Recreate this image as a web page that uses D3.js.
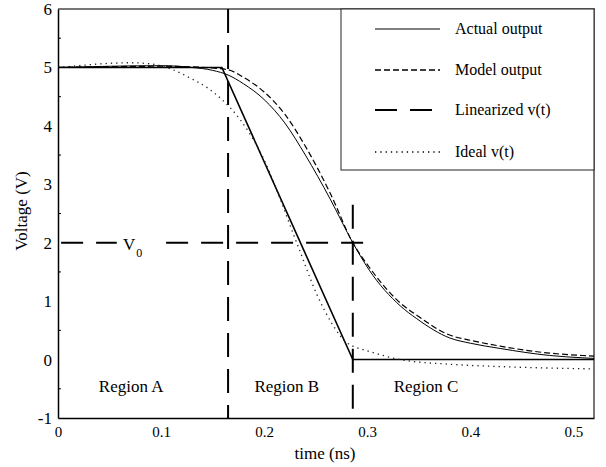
<!DOCTYPE html>
<html>
<head>
<meta charset="utf-8">
<script src="https://cdn.jsdelivr.net/npm/d3@7"></script>
<style>
  body { margin: 0; background: #fff; }
  svg, svg text { font-family: "Liberation Serif", "DejaVu Serif", serif; }
  .tick text { fill: #000; }
</style>
</head>
<body>
<svg id="chart" width="606" height="467"></svg>
<script>
// time points (ns) and voltages (V)
const tActual = [0, 0.05, 0.1, 0.13, 0.15, 0.165, 0.18, 0.2, 0.22, 0.24, 0.264, 0.286, 0.302, 0.332, 0.348, 0.38, 0.4, 0.429, 0.477, 0.509, 0.52];
const vActual = [5, 5.02, 5.03, 5.0, 4.95, 4.87, 4.72, 4.45, 4.05, 3.5, 2.75, 2.0, 1.53, 0.92, 0.7, 0.37, 0.28, 0.19, 0.07, 0.03, 0.02];

const tModel = [0, 0.1, 0.13, 0.15, 0.165, 0.18, 0.2, 0.22, 0.24, 0.264, 0.286, 0.302, 0.332, 0.348, 0.38, 0.4, 0.429, 0.477, 0.509, 0.52];
const vModel = [5, 5.02, 5.01, 4.99, 4.96, 4.83, 4.58, 4.2, 3.65, 2.85, 2.0, 1.58, 0.97, 0.76, 0.42, 0.33, 0.23, 0.11, 0.07, 0.06];

const tLinear = [0, 0.159, 0.286, 0.52];
const vLinear = [5, 5, 0, 0];

const tIdeal = [0, 0.02, 0.04, 0.07, 0.09, 0.11, 0.128, 0.145, 0.159, 0.177, 0.196, 0.232, 0.251, 0.266, 0.28, 0.286, 0.3, 0.332, 0.38, 0.429, 0.52];
const vIdeal = [5, 5.03, 5.06, 5.08, 5.06, 4.97, 4.82, 4.65, 4.45, 4.1, 3.56, 1.98, 1.12, 0.61, 0.29, 0.23, 0.15, 0.0, -0.08, -0.12, -0.16];

const xTicks = [0, 0.1, 0.2, 0.3, 0.4, 0.5];
const yTicks = [-1, 0, 1, 2, 3, 4, 5, 6];

const t1 = 0.165, t2 = 0.286, V0 = 2;   // region boundaries and V0 level

const legendItems = ["Actual output", "Model output", "Linearized v(t)", "Ideal v(t)"];
const regionLabels = ["Region A", "Region B", "Region C"];
const regionAt = [0.071, 0.222, 0.357];

const plotLeft = 58, plotTop = 9, plotRight = 594, plotBottom = 418;
const serif = "Liberation Serif, DejaVu Serif, serif";

const svg = d3.select("#chart");

const x = d3.scaleLinear().domain([0, 0.52]).range([plotLeft, plotRight]);
const y = d3.scaleLinear().domain([-1, 6]).range([plotBottom, plotTop]);

// frame
svg.append("line").attr("x1", plotLeft).attr("x2", plotRight + 1).attr("y1", plotTop).attr("y2", plotTop)
    .attr("stroke", "#777").attr("stroke-width", 2);
svg.append("line").attr("x1", plotRight).attr("x2", plotRight).attr("y1", plotTop).attr("y2", plotBottom)
    .attr("stroke", "#555").attr("stroke-width", 1.6);

// axes
svg.append("g")
    .attr("transform", "translate(0," + plotBottom + ")")
    .call(d3.axisBottom(x).tickValues(xTicks).tickSize(0).tickPadding(8)
        .tickFormat(function(d) { return d === 0 ? "0" : d3.format(".1f")(d); }))
    .attr("font-family", serif).attr("font-size", 15)
    .call(g => g.select(".domain").attr("stroke-width", 1.5));

svg.append("g")
    .attr("transform", "translate(" + plotLeft + ",0)")
    .call(d3.axisLeft(y).tickValues(yTicks).tickSize(0).tickPadding(6)
        .tickFormat(d => String(d)))
    .attr("font-family", serif).attr("font-size", 17)
    .call(g => g.select(".domain").attr("stroke-width", 1.5));

// minor inward ticks on y axis
svg.append("g").selectAll("line")
    .data(d3.range(-0.5, 6, 1))
    .enter().append("line")
    .attr("x1", plotLeft).attr("x2", plotLeft + 3)
    .attr("y1", d => y(d)).attr("y2", d => y(d))
    .attr("stroke", "#000");

// axis titles
svg.append("text")
    .attr("x", 325).attr("y", 459)
    .attr("text-anchor", "middle").attr("font-size", 17)
    .text("time (ns)");
svg.append("text")
    .attr("transform", "translate(27," + 211 + ") rotate(-90)")
    .attr("text-anchor", "middle").attr("font-size", 17)
    .text("Voltage (V)");

// region guides
const guide = "24,12";
svg.append("line").attr("x1", x(t1)).attr("x2", x(t1)).attr("y1", plotTop).attr("y2", plotBottom)
    .attr("stroke", "#000").attr("stroke-width", 2).attr("stroke-dasharray", guide);
svg.append("line").attr("x1", x(t2)).attr("x2", x(t2)).attr("y1", y(2.65)).attr("y2", plotBottom)
    .attr("stroke", "#000").attr("stroke-width", 2).attr("stroke-dasharray", guide);
svg.append("line").attr("x1", x(0.003)).attr("x2", x(0.296)).attr("y1", y(V0)).attr("y2", y(V0))
    .attr("stroke", "#000").attr("stroke-width", 2).attr("stroke-dasharray", "22,13");

// V0 label sits in a white gap of the dashed line
svg.append("rect").attr("x", x(0.057)).attr("y", y(V0) - 12).attr("width", 42).attr("height", 24)
    .attr("fill", "#fff");
const v0 = svg.append("text").attr("x", x(0.063)).attr("y", y(V0) + 7).attr("font-size", 17);
v0.append("tspan").text("V");
v0.append("tspan").attr("dx", 1).attr("dy", 7).attr("font-size", 12).text("0");

svg.selectAll(".region")
    .data(regionLabels)
    .enter().append("text")
    .attr("class", "region")
    .attr("x", (d, i) => x(regionAt[i]))
    .attr("y", y(-0.56))
    .attr("text-anchor", "middle")
    .attr("font-size", 17)
    .text(d => d);

// curves
function toPts(ts, vs) { return ts.map((t, i) => [t, vs[i]]); }
const smooth = d3.line().x(d => x(d[0])).y(d => y(d[1])).curve(d3.curveMonotoneX);
const straight = d3.line().x(d => x(d[0])).y(d => y(d[1]));

svg.append("path").attr("d", straight(toPts(tLinear, vLinear)))
    .attr("fill", "none").attr("stroke", "#000").attr("stroke-width", 1.6);
svg.append("path").attr("d", smooth(toPts(tIdeal, vIdeal)))
    .attr("fill", "none").attr("stroke", "#222").attr("stroke-width", 1.3).attr("stroke-dasharray", "1.3,4");
svg.append("path").attr("d", smooth(toPts(tModel, vModel)))
    .attr("fill", "none").attr("stroke", "#000").attr("stroke-width", 1.2).attr("stroke-dasharray", "6,3");
svg.append("path").attr("d", smooth(toPts(tActual, vActual)))
    .attr("fill", "none").attr("stroke", "#000").attr("stroke-width", 1);

// legend
const lg = svg.append("g");
lg.append("rect").attr("x", 341).attr("y", plotTop).attr("width", plotRight - 341).attr("height", 161)
    .attr("fill", "#fff").attr("stroke", "#222").attr("stroke-width", 1);
const legendDash = [null, "6,3", "22,13", "1.3,4"];
const legendWidth = [1, 1.5, 2, 1.3];
const legendY = [29, 70, 110, 152];
legendItems.forEach(function(name, i) {
    lg.append("line").attr("x1", 375).attr("x2", 440)
        .attr("y1", legendY[i]).attr("y2", legendY[i])
        .attr("stroke", "#000").attr("stroke-width", legendWidth[i])
        .attr("stroke-dasharray", legendDash[i]);
    lg.append("text").attr("x", 455).attr("y", legendY[i] + 5)
        .attr("font-size", 16).text(name);
});
</script>
</body>
</html>
